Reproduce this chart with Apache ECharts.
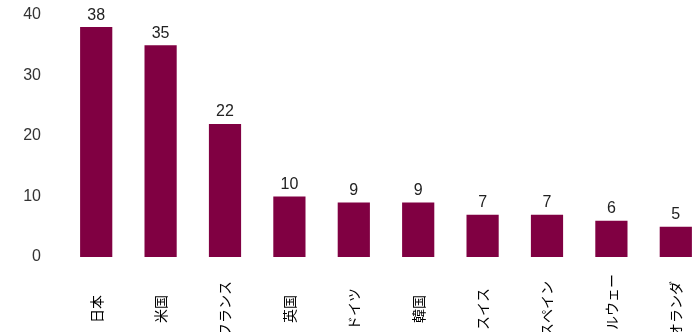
<!DOCTYPE html>
<html><head><meta charset="utf-8">
<script src="https://cdn.jsdelivr.net/npm/echarts@6/dist/echarts.min.js"></script>
<style>html,body{margin:0;padding:0;background:#fff}#c{width:694px;height:332px}</style>
</head><body><div id="c"></div>
<script>
const categories = ['日本','米国','フランス','英国','ドイツ','韓国','スイス','スペイン','ノルウェー','オランダ'];
const values = [38,35,22,10,9,9,7,7,6,5];
const yTicks = [0,10,20,30,40];

const chart = echarts.init(document.getElementById('c'), null, {renderer:'canvas'});
chart.setOption({
  animation:false,
  grid:{left:64, right:-14, top:15, bottom:75, containLabel:false, outerBoundsMode:'none'},
  xAxis:{
    type:'category', data:categories,
    axisLine:{show:false}, axisTick:{show:false},
    axisLabel:{rotate:90, align:'center', verticalAlign:'middle', margin:52, interval:0,
      color:'#000', fontSize:14, fontFamily:'Noto Sans CJK JP'}
  },
  yAxis:{
    type:'value', min:yTicks[0], max:yTicks[yTicks.length-1], interval:10,
    splitLine:{show:false}, axisLine:{show:false}, axisTick:{show:false},
    axisLabel:{margin:23, color:'#333', fontSize:16, fontFamily:'Arial, Liberation Sans'}
  },
  series:[{
    type:'bar', data:values, barWidth:'50%',
    itemStyle:{color:'#800042'},
    label:{show:true, position:'top', distance:4, color:'#222', fontSize:16, fontFamily:'Arial, Liberation Sans'}
  }]
});
</script></body></html>
